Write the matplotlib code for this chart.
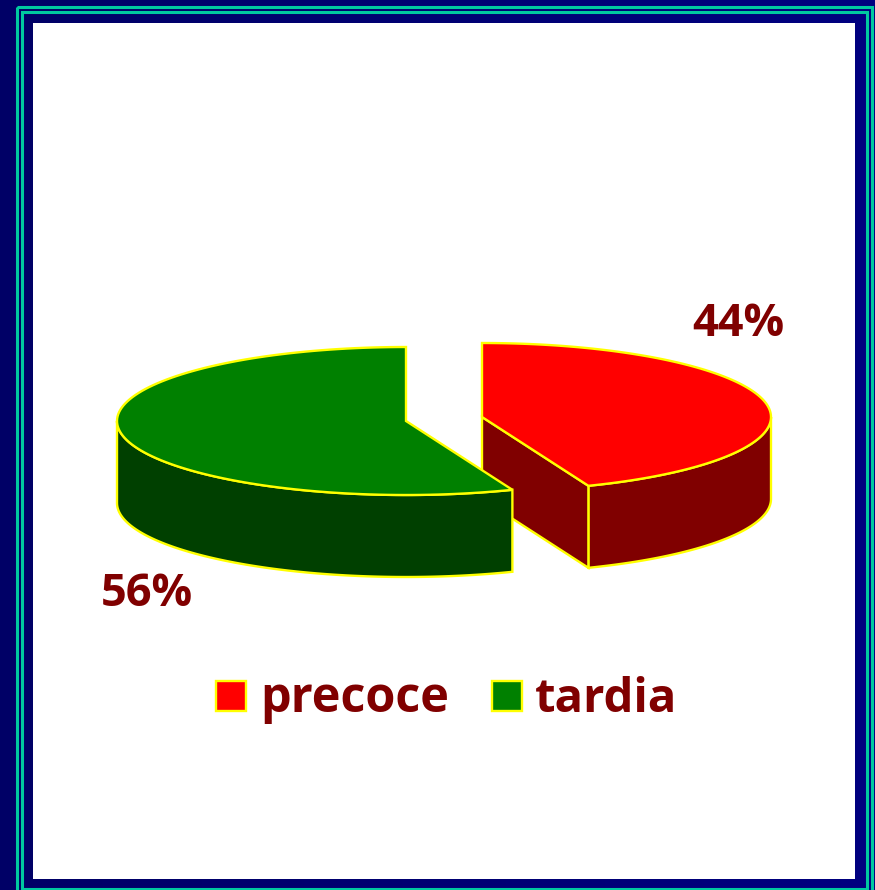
import numpy as np
import matplotlib
matplotlib.use("Agg")
import matplotlib.pyplot as plt
from matplotlib.patches import Polygon, Rectangle

# values
labels = ["precoce", "tardia"]
values = [44, 56]
top_colors = ["#ff0000", "#008000"]
side_colors = ["#800000", "#004000"]
text_color = "#800000"
edge_color = "#ffff00"

# pie geometry in pixels
rx, ry, depth = 289, 74, 82
centers = [(482, 417), (406, 421)]
label_pos = [(738, 324), (147, 594)]

plt.rcParams["font.family"] = ["Open Sans", "DejaVu Sans"]

fig = plt.figure(figsize=(8.75, 8.9), dpi=100)
ax = fig.add_axes([0, 0, 1, 1])
ax.axis("off")

# background with the slight blue gradient
grad = np.linspace(0, 1, 256).reshape(1, -1)
cmap = matplotlib.colors.LinearSegmentedColormap.from_list("bg", ["#000066", "#000080"])
ax.imshow(grad, extent=[0, 875, 890, 0], aspect="auto", cmap=cmap, zorder=0)
ax.set_xlim(0, 875)
ax.set_ylim(890, 0)

# frame lines, the outer one runs off the bottom
for x0, y0, x1, y1 in [(16.5, 6.5, 871.5, 900), (21.5, 12, 866.5, 888.5)]:
    ax.add_patch(Rectangle((x0, y0), x1 - x0, y1 - y0, fill=False, ec="#00c8a0", lw=2.2,
                           joinstyle="miter", zorder=1))
ax.add_patch(Rectangle((33, 23), 822, 856, fc="white", ec="none", zorder=2))


def rim(cx, cy, t0, t1, dy=0):
    t = np.radians(np.linspace(t0, t1, 120))
    return np.column_stack([cx + rx * np.sin(t), cy + dy - ry * np.cos(t)])


# slices run clockwise from 12 o'clock
angles = np.concatenate([[0], np.cumsum(values) / np.sum(values) * 360])
z = 3
for i in range(len(values)):
    cx, cy = centers[i]
    t0, t1 = angles[i], angles[i + 1]
    style = dict(ec=edge_color, lw=1.7, joinstyle="miter")

    # outer wall, only the part facing the viewer
    w0, w1 = max(t0, 90), min(t1, 270)
    top = rim(cx, cy, w0, w1)
    bottom = rim(cx, cy, w0, w1, depth)
    ax.add_patch(Polygon(np.vstack([top, bottom[::-1]]), fc=side_colors[i], zorder=z, **style))

    # cut face towards the viewer
    if t0 == 0:
        end = rim(cx, cy, t1, t1)[0]
        cut = [(cx, cy), end, (end[0], end[1] + depth), (cx, cy + depth)]
        ax.add_patch(Polygon(cut, fc=side_colors[i], zorder=z, **style))

    # top face
    pts = np.vstack([[(cx, cy)], rim(cx, cy, t0, t1)])
    ax.add_patch(Polygon(pts, fc=top_colors[i], zorder=z + 1, **style))
    z += 2

    ax.text(label_pos[i][0], label_pos[i][1], f"{values[i]}%", color=text_color, fontsize=32.5,
            fontweight="bold", ha="center", va="center", zorder=20)

# legend
legend_x = [216, 492]
legend_text_x = [260, 535]
legend_size = [35, 34]
for i in range(len(labels)):
    ax.add_patch(Rectangle((legend_x[i], 681), 30, 30, fc=top_colors[i], ec=edge_color, lw=1.7, zorder=20))
    ax.text(legend_text_x[i], 699, labels[i], color=text_color, fontsize=legend_size[i], fontweight="bold",
            ha="left", va="center", zorder=20)

fig.savefig("out.png", dpi=100)
